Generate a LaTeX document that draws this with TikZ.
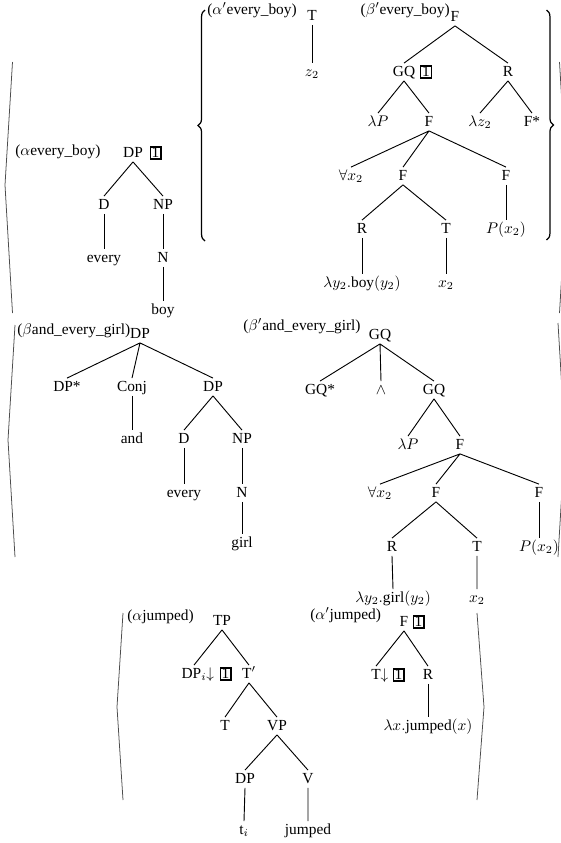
\documentclass[tikz,border=0pt]{standalone}
\usepackage{fontspec}
\setmainfont{Liberation Serif}
\usetikzlibrary{decorations.pathreplacing}

\begin{document}
\begin{tikzpicture}[x=0.65pt,y=-0.65pt,
        every node/.style={inner sep=1pt,text height=1.6ex,text depth=.4ex},
        idx/.style={draw,line width=0.8pt,inner xsep=1pt,inner ysep=0.7pt,text height=6.4pt,text depth=0pt},
        branch/.style={line width=0.6pt},
        fence/.style={black!70,line width=0.5pt},
        curly/.style={line width=0.8pt,decorate,decoration={brace,amplitude=4.5pt}}]
        \useasboundingbox (0,0) rectangle (561,843);
        \clip (0,0) rectangle (561,843);
        %% alpha every_boy
        \draw[fence] (12.5,62) -- (5,185) -- (12.5,313);
        \node[anchor=west] (ablab) at (13.5,151) {($\alpha$every\_boy)};
        \node (abdp) at (133,153) {DP};
        \node[idx] (abbox) at (155.5,153) {1};
        \node (abd) at (104,205) {D};
        \node (abnp) at (163,205) {NP};
        \node (abevery) at (104,258) {every};
        \node (abn) at (163,258) {N};
        \node (abboy) at (163,310) {boy};
        \draw[branch] (abdp.south) -- (abd.north) (abdp.south) -- (abnp.north);
        \draw[branch] (abd.south) -- (abevery.north);
        \draw[branch] (abnp.south) -- (abn.north) (abn.south) -- (abboy.north);
        %% alpha' and beta' every_boy
        \draw[curly] (205,241) -- (205,10);
        \node[anchor=west] (apblab) at (205.5,10) {($\alpha'$every\_boy)};
        \node (apbt) at (312,16) {T};
        \node (apbz) at (312,72) {$z_2$};
        \draw[branch] (apbt.south) -- (apbz.north);
        \node[anchor=east] (bpblab) at (451.5,10) {($\beta'$every\_boy)};
        \node (bpbf) at (455,17) {F};
        \node (bpbgq) at (404,72) {GQ};
        \node[idx] (bpbbox) at (426,72) {1};
        \node (bpbr) at (508,72) {R};
        \node (bpblp) at (378,122) {$\lambda P$};
        \node (bpbf2) at (429,122) {F};
        \node (bpblz) at (480,122) {$\lambda z_2$};
        \node (bpbfstar) at (532,122) {F*};
        \node (bpball) at (351,176) {$\forall x_2$};
        \node (bpbf3) at (403,176) {F};
        \node (bpbf4) at (506,176) {F};
        \node (bpbr2) at (362,229) {R};
        \node (bpbt) at (446,229) {T};
        \node (bpbp) at (506,229) {$P(x_2)$};
        \node (bpbboy) at (362,283) {$\lambda y_2.$boy$(y_2)$};
        \node (bpbx) at (446,283) {$x_2$};
        \draw[branch] (bpbf.south) -- (bpbgq.north) (bpbf.south) -- (bpbr.north);
        \draw[branch] (bpbgq.south) -- (bpblp.north) (bpbgq.south) -- (bpbf2.north);
        \draw[branch] (bpbr.south) -- (bpblz.north) (bpbr.south) -- (bpbfstar.north);
        \draw[branch] (bpbf2.south) -- (bpball.north) (bpbf2.south) -- (bpbf3.north) (bpbf2.south) -- (bpbf4.north);
        \draw[branch] (bpbf3.south) -- (bpbr2.north) (bpbf3.south) -- (bpbt.north);
        \draw[branch] (bpbf4.south) -- (bpbp.north);
        \draw[branch] (bpbr2.south) -- (bpbboy.north) (bpbt.south) -- (bpbx.north);
        \draw[curly] (546.5,10) -- (546.5,240);
        \draw[fence] (559.5,62) -- (567,187) -- (559.5,313);
        %% beta and_every_girl
        \draw[fence] (15,325) -- (8,440) -- (15,557);
        \node[anchor=west] (bglab) at (15.5,330) {($\beta$and\_every\_girl)};
        \node (bgdp) at (140,334) {DP};
        \node (bgdpstar) at (67,387) {DP*};
        \node (bgconj) at (132,387) {Conj};
        \node (bgdp2) at (213,387) {DP};
        \node (bgand) at (132,439) {and};
        \node (bgd) at (184,439) {D};
        \node (bgnp) at (242,439) {NP};
        \node (bgevery) at (184,493) {every};
        \node (bgn) at (242,493) {N};
        \node (bggirl) at (242,543) {girl};
        \draw[branch] (bgdp.south) -- (bgdpstar.north) (bgdp.south) -- (bgconj.north) (bgdp.south) -- (bgdp2.north);
        \draw[branch] (bgconj.south) -- (bgand.north);
        \draw[branch] (bgdp2.south) -- (bgd.north) (bgdp2.south) -- (bgnp.north);
        \draw[branch] (bgd.south) -- (bgevery.north);
        \draw[branch] (bgnp.south) -- (bgn.north) (bgn.south) -- (bggirl.north);
        %% beta' and_every_girl
        \node[anchor=west] (bpglab) at (241.5,326) {($\beta'$and\_every\_girl)};
        \node (bpggq) at (380,335) {GQ};
        \node (bpggqstar) at (320,390) {GQ*};
        \node (bpgand) at (381,390) {$\wedge$};
        \node (bpggq2) at (434,390) {GQ};
        \node (bpglp) at (408,445) {$\lambda P$};
        \node (bpgf) at (460,445) {F};
        \node (bpgall) at (380,493) {$\forall x_2$};
        \node (bpgf2) at (436,493) {F};
        \node (bpgf3) at (539,493) {F};
        \node (bpgr) at (392,547) {R};
        \node (bpgt) at (477,547) {T};
        \node (bpgp) at (539,547) {$P(x_2)$};
        \node (bpggirl) at (393,598) {$\lambda y_2.$girl$(y_2)$};
        \node (bpgx) at (477,598) {$x_2$};
        \draw[branch] (bpggq.south) -- (bpggqstar.north) (bpggq.south) -- (bpgand.north) (bpggq.south) -- (bpggq2.north);
        \draw[branch] (bpggq2.south) -- (bpglp.north) (bpggq2.south) -- (bpgf.north);
        \draw[branch] (bpgf.south) -- (bpgall.north) (bpgf.south) -- (bpgf2.north) (bpgf.south) -- (bpgf3.north);
        \draw[branch] (bpgf2.south) -- (bpgr.north) (bpgf2.south) -- (bpgt.north);
        \draw[branch] (bpgf3.south) -- (bpgp.north);
        \draw[branch] (bpgr.south) -- (bpggirl.north) (bpgt.south) -- (bpgx.north);
        \draw[fence] (558,323) -- (565,440) -- (558,557);
        %% alpha jumped
        \draw[fence] (123,613) -- (117,707) -- (123,800);
        \node[anchor=west] (ajlab) at (125.5,616) {($\alpha$jumped)};
        \node (ajtp) at (222,621) {TP};
        \node (ajdp) at (194,674) {DP$_i$\rlap{$\downarrow$}};
        \node[idx] (ajbox) at (225.5,674) {1};
        \node (ajtbar) at (249,674) {T$'$};
        \node (ajt) at (225,726) {T};
        \node (ajvp) at (277,726) {VP};
        \node (ajdp2) at (245,779) {DP};
        \node (ajv) at (308,779) {V};
        \node (ajti) at (244,830) {t$_i$};
        \node (ajjumped) at (308,830) {jumped};
        \draw[branch] (ajtp.south) -- (ajdp.north) (ajtp.south) -- (ajtbar.north);
        \draw[branch] (ajtbar.south) -- (ajt.north) (ajtbar.south) -- (ajvp.north);
        \draw[branch] (ajvp.south) -- (ajdp2.north) (ajvp.south) -- (ajv.north);
        \draw[branch] (ajdp2.south) -- (ajti.north) (ajv.south) -- (ajjumped.north);
        %% alpha' jumped
        \node[anchor=west] (apjlab) at (308.5,615) {($\alpha'$jumped)};
        \node (apjf) at (404,622) {F};
        \node[idx] (apjbox) at (418.5,622) {1};
        \node (apjt) at (376,675) {T\rlap{$\downarrow$}};
        \node[idx] (apjtbox) at (398.5,675) {1};
        \node (apjr) at (428,675) {R};
        \node (apjlx) at (428,726) {$\lambda x.$jumped$(x)$};
        \draw[branch] (apjf.south) -- (apjt.north) (apjf.south) -- (apjr.north);
        \draw[branch] (apjr.south) -- (apjlx.north);
        \draw[fence] (477,613) -- (484,707) -- (477,800);
    \end{tikzpicture}
\end{document}
